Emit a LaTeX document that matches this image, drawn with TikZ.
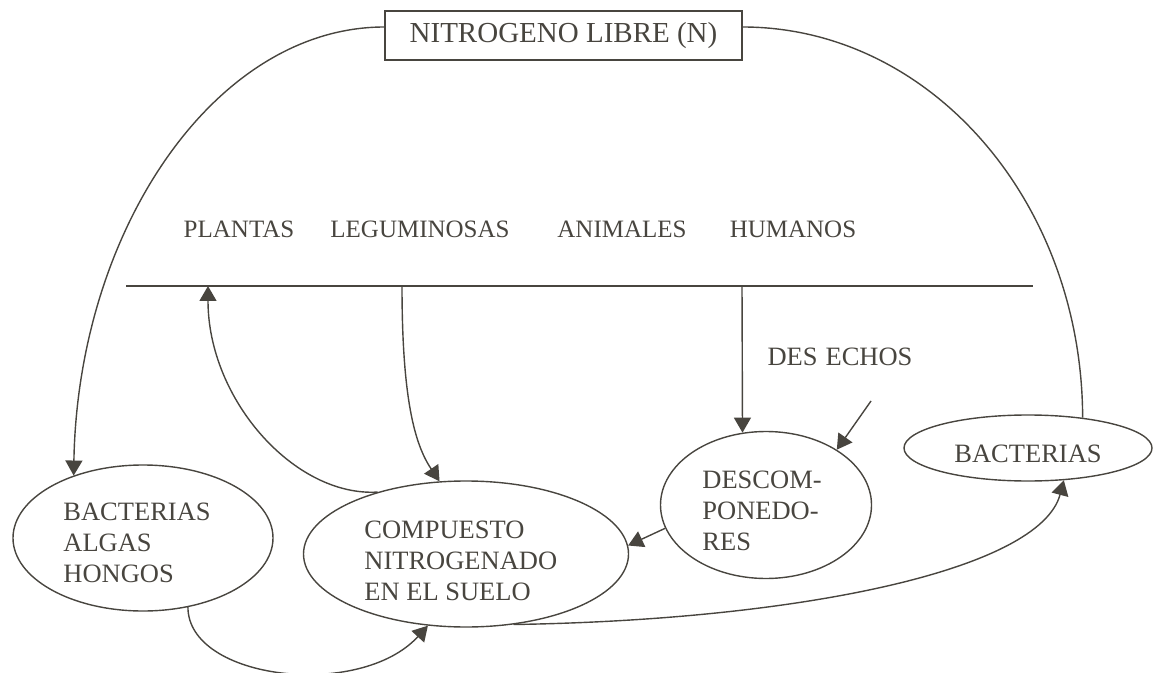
\documentclass[tikz,border=0pt]{standalone}
\usepackage{fontspec}
\setmainfont{Liberation Serif}
\usetikzlibrary{arrows.meta,shapes.geometric}
\definecolor{ink}{HTML}{48453F}

\begin{document}
\begin{tikzpicture}[x=0.5pt,y=-0.5pt]
\tikzset{
	wire/.style = {draw = ink, line width = 0.7pt},
	link/.style = {wire, -{Triangle[length = 7.5pt, width = 8.5pt]}},
	blob/.style = {ellipse, draw = ink, line width = 0.7pt, inner sep = 0},
	tag/.style = {text = ink, inner sep = 0, font = \fontsize{12.5}{15}\selectfont},
	say/.style = {text = ink, inner sep = 0, anchor = west, align = left, font = \fontsize{13.25}{15.6}\selectfont},
}

\useasboundingbox (0,0) rectangle (1155,673);

% nitrogeno libre
\node[draw = ink, line width = 0.6pt, minimum width = 178.5pt, minimum height = 24.5pt, inner sep = 0, text = ink, font = \fontsize{14.5}{17}\selectfont] (nitro) at (563.5,35.5) {NITROGENO LIBRE (N)\hspace{7pt}};

% seres vivos
\node[tag] (plantas) at (239,229) {PLANTAS};
\node[tag] (legum) at (420,229) {LEGUMINOSAS};
\node[tag] (anim) at (622,229) {ANIMALES};
\node[tag] (human) at (793,229) {HUMANOS};

\coordinate (hl-a) at (126,286);
\coordinate (hl-b) at (1033,286);
\coordinate (to-plantas) at (208,286);
\coordinate (from-legum) at (402,286);
\coordinate (from-human) at (742,286);

% suelo
\node[blob, minimum width = 130pt, minimum height = 73pt] (bam) at (143,538) {};
\node[say] (bam-txt) at (63,543) {BACTERIAS\\ALGAS\\HONGOS};
\node[blob, minimum width = 162.5pt, minimum height = 73pt] (cns) at (466,554) {};
\node[say] (cns-txt) at (364,561) {COMPUESTO\\NITROGENADO\\EN EL SUELO};
\node[blob, minimum width = 105.5pt, minimum height = 73.5pt] (dsc) at (766,505) {};
\node[say] (dsc-txt) at (702,511) {DESCOM-\\PONEDO-\\RES};
\node[blob, minimum width = 124pt, minimum height = 33pt] (bac) at (1028,448) {};
\node[say, anchor = center] (bac-txt) at (1028,454) {BACTERIAS};

\node[tag, font = \fontsize{13.25}{15}\selectfont] (desechos) at (840,357) {DES\kern4pt ECHOS};
\coordinate (from-desechos) at (871,401);

\draw[wire] (hl-a) -- (hl-b);

\draw[link] ([yshift = 4.25pt]nitro.west) .. controls (215,27) and (78,230) .. (bam.138);
\draw[wire] ([yshift = 4.25pt]nitro.east) .. controls (930,27) and (1082,201) .. (bac.29);

\draw[link] (cns.145) .. controls (295,497) and (208,400) .. (to-plantas);
\draw[link] (from-legum) .. controls (402,400) and (415,445) .. (cns.110);
\draw[link] (from-human) -- (dsc.108);
\draw[link] (from-desechos) -- (dsc.38);
\draw[link] (dsc.193) -- (cns.3);

\draw[link] (bam.-57) .. controls (188,680) and (360,700) .. (cns.-118);
\draw[link] (cns.-56) .. controls (800,620) and (1040,570) .. (bac.-42);

\end{tikzpicture}
\end{document}
